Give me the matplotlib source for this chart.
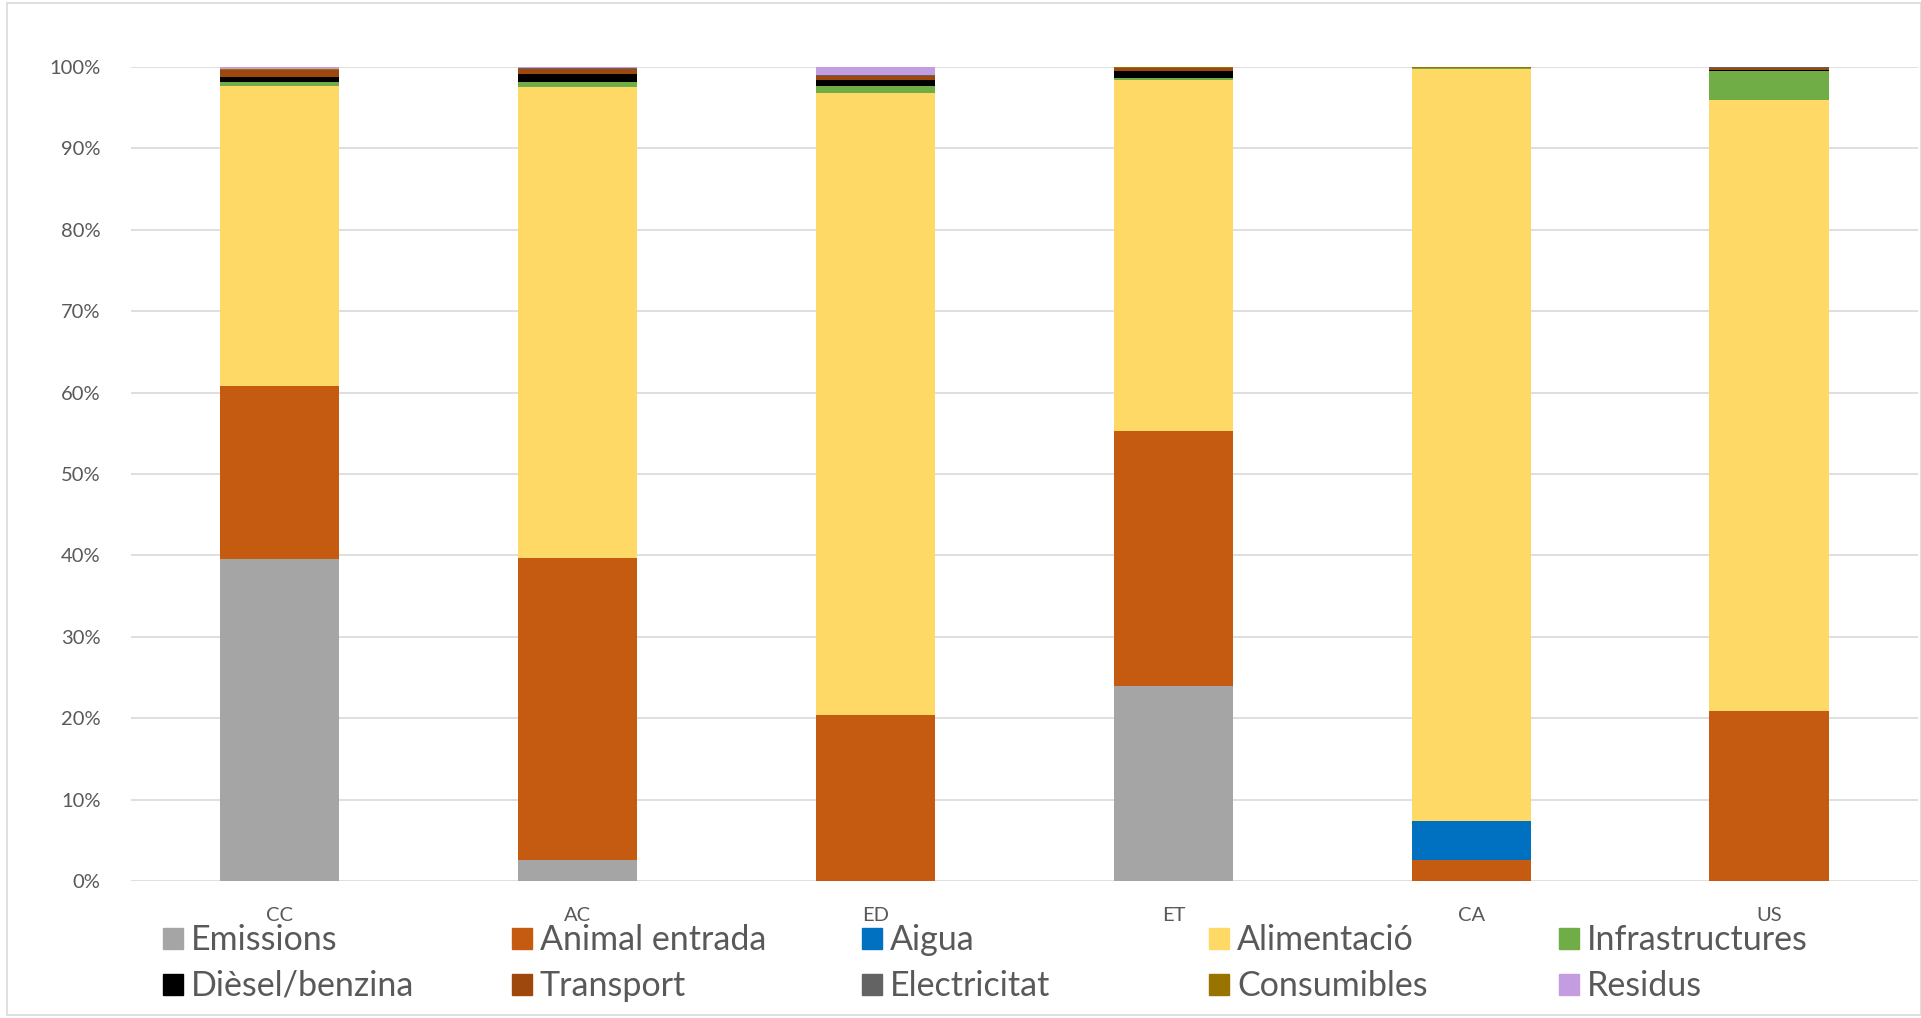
import numpy as np
import matplotlib
matplotlib.use('agg')
import matplotlib.pyplot as plt
from matplotlib.patches import Rectangle

plt.rcParams['font.family'] = ['Lato', 'DejaVu Sans']

# Data (percent of each category)
categories = ['CC', 'AC', 'ED', 'ET', 'CA', 'US']
series = ['Emissions', 'Animal entrada', 'Aigua', 'Alimentació', 'Infrastructures',
          'Dièsel/benzina', 'Transport', 'Electricitat', 'Consumibles', 'Residus']
emissions      = [39.5, 2.6, 0.0, 23.9, 0.0, 0.0]
animal_entrada = [21.3, 37.0, 20.3, 31.4, 2.6, 20.9]
aigua          = [0.0, 0.0, 0.0, 0.0, 4.8, 0.0]
alimentacio    = [36.8, 57.8, 76.4, 43.0, 92.4, 75.0]
infrastructures = [0.5, 0.65, 0.8, 0.3, 0.1, 3.5]
diesel         = [0.6, 1.0, 0.8, 0.8, 0.0, 0.15]
transport      = [0.8, 0.65, 0.5, 0.4, 0.0, 0.25]
electricitat   = [0.05, 0.05, 0.05, 0.05, 0.05, 0.05]
consumibles    = [0.05, 0.05, 0.05, 0.05, 0.1, 0.05]
residus        = [0.3, 0.1, 0.95, 0.05, 0.0, 0.0]
colors = ['#A5A5A5', '#C55A11', '#0070C0', '#FFD966', '#70AD47',
          '#000000', '#9E480E', '#636363', '#997300', '#C49DE0']

data = np.array([emissions, animal_entrada, aigua, alimentacio, infrastructures,
                 diesel, transport, electricitat, consumibles, residus])
pct = data / data.sum(axis=0) * 100

fig = plt.figure(figsize=(19.21, 10.18), dpi=100)
ax = fig.add_axes([0.0682, 0.1346, 0.9302, 0.7996])

x = np.arange(len(categories))
bottom = np.zeros(len(categories))
for i, name in enumerate(series):
    ax.bar(x, pct[i], 0.4, bottom=bottom, color=colors[i], label=name, zorder=3)
    bottom += pct[i]

ax.set_xlim(-0.5, 5.5)
ax.set_ylim(0, 100)
ax.set_yticks(np.arange(0, 101, 10))
ax.set_yticklabels(['%d%%' % v for v in range(0, 101, 10)])
ax.set_xticks(x)
ax.set_xticklabels(categories)
ax.yaxis.grid(True, color='#D9D9D9', lw=1.2, zorder=0)
for s in ax.spines.values():
    s.set_visible(False)
ax.tick_params(axis='both', length=0, labelsize=14.5, labelcolor='#595959')
ax.tick_params(axis='x', pad=19)
ax.tick_params(axis='y', pad=22)

# legend, laid out as in the original (2 rows x 5 columns)
col_x = [163, 512, 862, 1209, 1559]
row_y = [938.5, 984.5]
W, H = 1921.0, 1018.0
for i, name in enumerate(series):
    r, c = divmod(i, 5)
    fig.patches.append(Rectangle((col_x[c] / W, 1 - (row_y[r] + 10.5) / H), 20 / W, 21 / H,
                                 transform=fig.transFigure, color=colors[i], figure=fig))
    fig.text((col_x[c] + 28) / W, 1 - (row_y[r] + 1) / H, name, fontsize=24.5,
             color='#595959', va='center', ha='left')

# chart area border
fig.patches.append(Rectangle((7 / W, 3 / H), 1 - 7 / W, 1 - 6 / H, transform=fig.transFigure,
                             fill=False, edgecolor='#D9D9D9', lw=1.2, figure=fig))

plt.savefig('out.png', dpi=100)
